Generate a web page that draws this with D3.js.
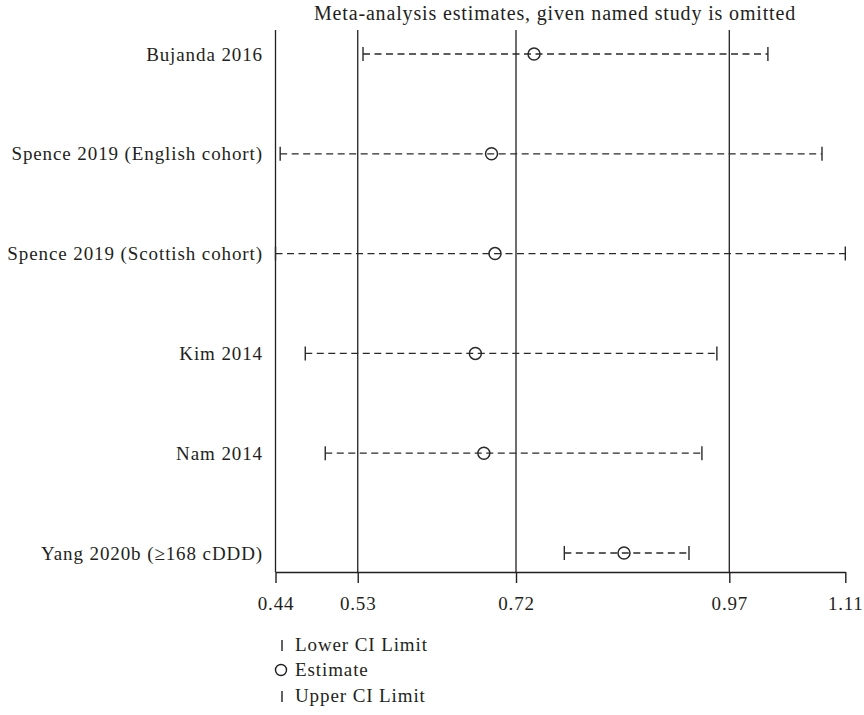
<!DOCTYPE html>
<html>
<head>
<meta charset="utf-8">
<script src="https://cdn.jsdelivr.net/npm/d3@7"></script>
<style>
  html, body { margin: 0; padding: 0; background: #fff; }
  svg { display: block; }
  text { font-family: "Liberation Serif", "DejaVu Serif", serif; fill: #231f20; }
</style>
</head>
<body>
<svg id="chart" width="864" height="715"></svg>
<script>
// ---- data ----
const studies = [
  "Bujanda 2016",
  "Spence 2019 (English cohort)",
  "Spence 2019 (Scottish cohort)",
  "Kim 2014",
  "Nam 2014",
  "Yang 2020b (\u2265168 cDDD)"
];
const lowerCI   = [0.5429, 0.4455, 0.4400, 0.4750, 0.4985, 0.7796];
const estimates = [0.7440, 0.6940, 0.6981, 0.6750, 0.6850, 0.8498];
const upperCI   = [1.0190, 1.0826, 1.1100, 0.9590, 0.9414, 0.9262];
const tickValues = [0.44, 0.5367, 0.7228, 0.9736, 1.11];
const tickLabels = ["0.44", "0.53", "0.72", "0.97", "1.11"];
const gridValues = [0.5367, 0.7228, 0.9736];
const titleText = "Meta-analysis estimates, given named study is omitted";
const legendLabels = ["Lower CI Limit", "Estimate", "Upper CI Limit"];

// ---- layout ----
const svg = d3.select("#chart");
const ink = "#231f20";
const plotTop = 30, axisY = 572;
const x = d3.scaleLinear().domain([0.44, 1.11]).range([275.5, 845.3]);
const y = d3.scalePoint().domain(studies).range([54, 553]);

// title
svg.append("text")
  .attr("x", 555).attr("y", 20)
  .attr("text-anchor", "middle")
  .attr("font-size", 20)
  .attr("letter-spacing", 0.85)
  .text(titleText);

// gridlines
svg.append("g").selectAll("line").data(gridValues).join("line")
  .attr("x1", d => x(d)).attr("x2", d => x(d))
  .attr("y1", plotTop).attr("y2", axisY)
  .attr("stroke", ink).attr("stroke-width", 1.3);

// y axis line
svg.append("line")
  .attr("x1", x(0.44)).attr("x2", x(0.44))
  .attr("y1", plotTop).attr("y2", axisY)
  .attr("stroke", ink).attr("stroke-width", 1.3);

// x axis
const xAxis = d3.axisBottom(x)
  .tickValues(tickValues)
  .tickFormat((d, i) => tickLabels[i])
  .tickSize(11).tickSizeOuter(0).tickPadding(14);
const gx = svg.append("g").attr("transform", `translate(0,${axisY})`).call(xAxis);
gx.select(".domain").attr("stroke", ink).attr("stroke-width", 1.4);
gx.selectAll(".tick line").attr("stroke", ink).attr("stroke-width", 1.4);
gx.selectAll(".tick text")
  .attr("font-family", "Liberation Serif, DejaVu Serif, serif")
  .attr("font-size", 19).attr("letter-spacing", 0.8).attr("fill", ink);

// study labels
svg.append("g").selectAll("text").data(studies).join("text")
  .attr("x", 263).attr("y", d => y(d))
  .attr("dy", "0.35em")
  .attr("text-anchor", "end")
  .attr("font-size", 19)
  .attr("letter-spacing", 0.9)
  .text(d => d);

// CI dashed lines
const rows = studies.map((s, i) => ({s, lo: lowerCI[i], est: estimates[i], hi: upperCI[i]}));
const g = svg.append("g");
g.selectAll("line.ci").data(rows).join("line").attr("class", "ci")
  .attr("x1", d => x(d.lo)).attr("x2", d => x(d.hi))
  .attr("y1", d => y(d.s)).attr("y2", d => y(d.s))
  .attr("stroke", "#2a2a2a").attr("stroke-width", 1.3)
  .attr("stroke-dasharray", "7,4.5");
// caps
g.selectAll("line.lo").data(rows).join("line").attr("class", "lo")
  .attr("x1", d => x(d.lo)).attr("x2", d => x(d.lo))
  .attr("y1", d => y(d.s) - 7).attr("y2", d => y(d.s) + 7)
  .attr("stroke", "#2a2a2a").attr("stroke-width", 1.4);
g.selectAll("line.hi").data(rows).join("line").attr("class", "hi")
  .attr("x1", d => x(d.hi)).attr("x2", d => x(d.hi))
  .attr("y1", d => y(d.s) - 7).attr("y2", d => y(d.s) + 7)
  .attr("stroke", "#2a2a2a").attr("stroke-width", 1.4);
// estimates
g.selectAll("circle").data(rows).join("circle")
  .attr("cx", d => x(d.est)).attr("cy", d => y(d.s)).attr("r", 6)
  .attr("fill", "none").attr("stroke", "#2a2a2a").attr("stroke-width", 1.5);

// legend
const leg = svg.append("g");
const legY = [644, 669, 695];
leg.append("line").attr("x1", 282).attr("x2", 282).attr("y1", legY[0] - 4).attr("y2", legY[0] + 7)
  .attr("stroke", ink).attr("stroke-width", 1.4);
leg.append("circle").attr("cx", 281).attr("cy", legY[1] + 1).attr("r", 5.5)
  .attr("fill", "none").attr("stroke", ink).attr("stroke-width", 1.4);
leg.append("line").attr("x1", 282).attr("x2", 282).attr("y1", legY[2] - 4).attr("y2", legY[2] + 7)
  .attr("stroke", ink).attr("stroke-width", 1.4);
leg.selectAll("text").data(legendLabels).join("text")
  .attr("x", 295).attr("y", (d, i) => legY[i])
  .attr("dy", "0.35em")
  .attr("font-size", 19)
  .attr("letter-spacing", 0.9)
  .text(d => d);
</script>
</body>
</html>
